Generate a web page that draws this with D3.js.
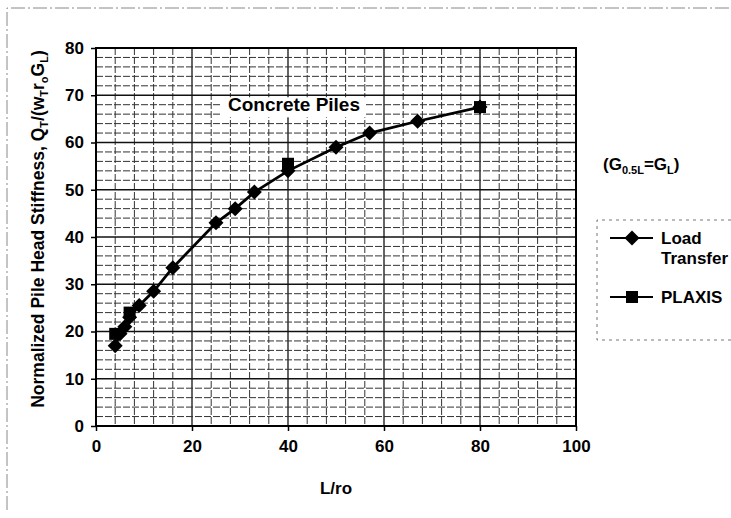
<!DOCTYPE html>
<html>
<head>
<meta charset="utf-8">
<script src="https://cdn.jsdelivr.net/npm/d3@7"></script>
<style>
  html, body { margin: 0; padding: 0; background: #fff; }
  svg { display: block; font-family: Arial, "Liberation Sans", sans-serif; }
</style>
</head>
<body>
<svg id="chart" width="731" height="518"></svg>
<script>
// Pile head stiffness vs slenderness, concrete piles
const loadTransferX = [4, 5, 6, 7, 9, 12, 16, 25, 29, 33, 40, 50, 57, 67, 80];
const loadTransferY = [17, 19.5, 21, 23, 25.5, 28.5, 33.5, 43, 46, 49.5, 54, 59, 62, 64.5, 67.5];
const plaxisX = [4, 7, 40, 80];
const plaxisY = [19.5, 24, 55.5, 67.5];
const xTicks = [0, 20, 40, 60, 80, 100];
const yTicks = [0, 10, 20, 30, 40, 50, 60, 70, 80];

const svg = d3.select("#chart");
const m = { left: 96, right: 576, top: 48, bottom: 426 };

const x = d3.scaleLinear().domain([0, 100]).range([m.left, m.right]);
const y = d3.scaleLinear().domain([0, 80]).range([m.bottom, m.top]);

// faint outer frame
svg.append("path")
  .attr("d", `M7,510 L7,8 L731,8`)
  .attr("fill", "none").attr("stroke", "#888").attr("stroke-width", 1)
  .attr("stroke-dasharray", "14,3,2,3");

// grid: minor every 4 in x, every 2 in y
const gx = d3.range(4, 100, 4);
const gy = d3.range(2, 80, 2);
const grid = svg.append("g");
grid.selectAll("line.vx").data(gx).join("line")
  .attr("x1", d => x(d)).attr("x2", d => x(d))
  .attr("y1", m.top).attr("y2", m.bottom)
  .attr("stroke", d => d % 20 === 0 ? "#111" : "#333")
  .attr("stroke-width", d => d % 20 === 0 ? 1.3 : 1)
  .attr("stroke-dasharray", d => d % 20 === 0 ? null : "7,2");
grid.selectAll("line.hy").data(gy).join("line")
  .attr("x1", m.left).attr("x2", m.right)
  .attr("y1", d => y(d)).attr("y2", d => y(d))
  .attr("stroke", d => d % 10 === 0 ? "#111" : "#333")
  .attr("stroke-width", d => d % 10 === 0 ? 1.3 : 1)
  .attr("stroke-dasharray", d => d % 10 === 0 ? null : "7,2");

// label with a white backing that sits below the 70 gridline
const cpY = y(66.6);
const cpText = svg.append("text")
  .attr("x", 228).attr("y", cpY)
  .attr("font-size", 19).attr("font-weight", "bold")
  .text("Concrete Piles");
const bb = cpText.node().getBBox();
svg.insert("rect", "text")
  .attr("x", bb.x - 6).attr("y", y(70) + 2)
  .attr("width", bb.width + 12).attr("height", cpY + 6 - (y(70) + 2))
  .attr("fill", "#fff");

// axes
const xAxis = svg.append("g")
  .attr("transform", `translate(0,${m.bottom})`)
  .call(d3.axisBottom(x).tickValues(xTicks).tickSize(5).tickPadding(9));
const yAxis = svg.append("g")
  .attr("transform", `translate(${m.left},0)`)
  .call(d3.axisLeft(y).tickValues(yTicks).tickSize(5).tickPadding(7));
[xAxis, yAxis].forEach(a => {
  a.select(".domain").remove();
  a.selectAll("line").attr("stroke", "#000").attr("stroke-width", 1.5);
  a.selectAll("text").attr("font-size", 17).attr("font-weight", "bold")
    .attr("font-family", "Arial, 'Liberation Sans', sans-serif").attr("fill", "#000");
});

// plot border
svg.append("rect")
  .attr("x", m.left).attr("y", m.top)
  .attr("width", m.right - m.left).attr("height", m.bottom - m.top)
  .attr("fill", "none").attr("stroke", "#000").attr("stroke-width", 2);

// Load Transfer curve
const lt = loadTransferX.map((v, i) => [v, loadTransferY[i]]);
svg.append("path")
  .datum(lt)
  .attr("fill", "none").attr("stroke", "#000").attr("stroke-width", 2.8)
  .attr("d", d3.line().x(d => x(d[0])).y(d => y(d[1])));

// even-sided diamond (rotated square) and square markers
const diamondPath = "M0,-7.5L7.5,0L0,7.5L-7.5,0Z";
const squarePath = "M-6,-6H6V6H-6Z";

svg.append("g").selectAll("path").data(lt).join("path")
  .attr("transform", d => `translate(${x(d[0])},${y(d[1])})`)
  .attr("d", diamondPath).attr("fill", "#000");

const px = plaxisX.map((v, i) => [v, plaxisY[i]]);
svg.append("g").selectAll("path").data(px).join("path")
  .attr("transform", d => `translate(${x(d[0])},${y(d[1])})`)
  .attr("d", squarePath).attr("fill", "#000");

// axis titles
svg.append("text")
  .attr("x", x(50)).attr("y", 494)
  .attr("text-anchor", "middle").attr("font-size", 17).attr("font-weight", "bold")
  .text("L/ro");

const yt = svg.append("text")
  .attr("transform", `translate(44,229) rotate(-90)`)
  .attr("text-anchor", "middle").attr("font-size", 17.5).attr("font-weight", "bold");
yt.append("tspan").text("Normalized Pile Head Stiffness, Q");
yt.append("tspan").attr("font-size", 11).attr("dy", 4).text("T");
yt.append("tspan").attr("dy", -4).text("/(w");
yt.append("tspan").attr("font-size", 11).attr("dy", 4).text("T");
yt.append("tspan").attr("dy", -4).text("r");
yt.append("tspan").attr("font-size", 11).attr("dy", 4).text("o");
yt.append("tspan").attr("dy", -4).text("G");
yt.append("tspan").attr("font-size", 11).attr("dy", 4).text("L");
yt.append("tspan").attr("dy", -4).text(")");

// annotation
const ann = svg.append("text")
  .attr("x", 603).attr("y", 170).attr("font-size", 17).attr("font-weight", "bold");
ann.append("tspan").text("(G");
ann.append("tspan").attr("font-size", 11).attr("dy", 4).text("0.5L");
ann.append("tspan").attr("dy", -4).text("=G");
ann.append("tspan").attr("font-size", 11).attr("dy", 4).text("L");
ann.append("tspan").attr("dy", -4).text(")");

// legend
svg.append("path")
  .attr("d", "M731,220 L597,220 L597,340 L731,340")
  .attr("fill", "none").attr("stroke", "#777").attr("stroke-width", 1)
  .attr("stroke-dasharray", "3,4");

const leg = svg.append("g");
[[238, diamondPath, ["Load", "Transfer"]], [297, squarePath, ["PLAXIS"]]].forEach(([ly, sym, lines]) => {
  leg.append("line").attr("x1", 610).attr("x2", 653).attr("y1", ly).attr("y2", ly)
    .attr("stroke", "#000").attr("stroke-width", 2.2);
  leg.append("path").attr("transform", `translate(632,${ly})`).attr("d", sym).attr("fill", "#000");
  const t = leg.append("text").attr("x", 661).attr("y", ly + 6).attr("font-size", 17).attr("font-weight", "bold");
  lines.forEach((s, i) => t.append("tspan").attr("x", 661).attr("dy", i === 0 ? 0 : 20).text(s));
});
</script>
</body>
</html>
